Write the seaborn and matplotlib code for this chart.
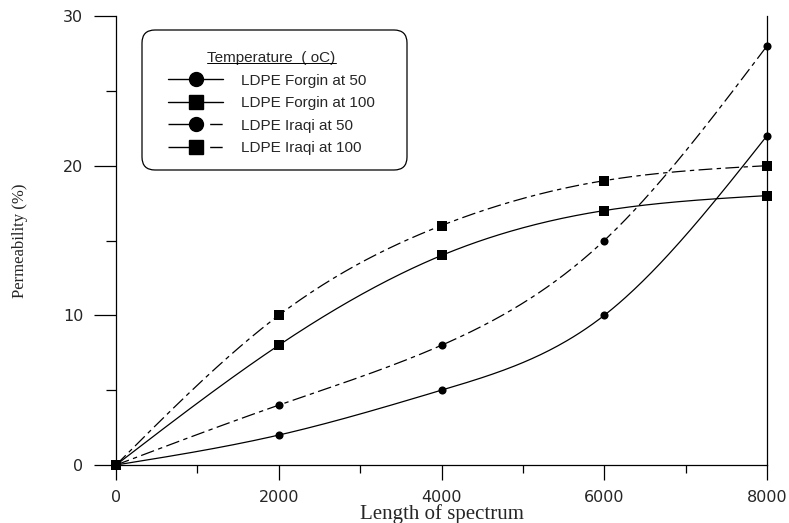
import numpy as np
import pandas as pd
import matplotlib
matplotlib.use("Agg")
import matplotlib.pyplot as plt
from matplotlib.lines import Line2D
from matplotlib.patches import FancyBboxPatch
from matplotlib.ticker import MultipleLocator
import seaborn as sns

# ---- data ----
length = [0, 2000, 4000, 6000, 8000]
forgin_50 = [0, 2, 5, 10, 22]
forgin_100 = [0, 8, 14, 17, 18]
iraqi_50 = [0, 4, 8, 15, 28]
iraqi_100 = [0, 10, 16, 19, 20]
series_names = ["LDPE Forgin at 50", "LDPE Forgin at 100", "LDPE Iraqi at 50", "LDPE Iraqi at 100"]
series_vals = [forgin_50, forgin_100, iraqi_50, iraqi_100]
markers = ["o", "s", "o", "s"]
styles = ["solid", "solid", "dashdot", "dashdot"]


def natural_spline(x, y, n=300):
    x = np.asarray(x, float)
    y = np.asarray(y, float)
    m = len(x)
    h = np.diff(x)
    A = np.zeros((m, m))
    b = np.zeros(m)
    A[0, 0] = A[-1, -1] = 1
    for i in range(1, m - 1):
        A[i, i - 1] = h[i - 1]
        A[i, i] = 2 * (h[i - 1] + h[i])
        A[i, i + 1] = h[i]
        b[i] = 6 * ((y[i + 1] - y[i]) / h[i] - (y[i] - y[i - 1]) / h[i - 1])
    M = np.linalg.solve(A, b)
    xs = np.linspace(x[0], x[-1], n)
    ys = np.empty_like(xs)
    for k, xv in enumerate(xs):
        i = min(np.searchsorted(x, xv, side="right") - 1, m - 2)
        t1 = x[i + 1] - xv
        t0 = xv - x[i]
        ys[k] = (M[i] * t1 ** 3 + M[i + 1] * t0 ** 3) / (6 * h[i]) \
            + (y[i] / h[i] - M[i] * h[i] / 6) * t1 \
            + (y[i + 1] / h[i] - M[i + 1] * h[i] / 6) * t0
    return xs, ys


sns.set_style("white")
plt.rcParams["font.family"] = ["Liberation Sans", "DejaVu Sans"]

fig = plt.figure(figsize=(7.89, 5.23), dpi=100)
ax = fig.add_axes([116 / 789, (523 - 465) / 523, (767 - 116) / 789, (465 - 16) / 523])

dash = (0, (11, 3.5, 3.5, 3.5))
for name, vals, mk, st in zip(series_names, series_vals, markers, styles):
    xs, ys = natural_spline(length, vals)
    dfc = pd.DataFrame({"x": xs, "y": ys})
    sns.lineplot(data=dfc, x="x", y="y", ax=ax, color="black", lw=0.9,
                 linestyle="-" if st == "solid" else dash, sort=False)
    dfp = pd.DataFrame({"x": length, "y": vals})
    sns.scatterplot(data=dfp, x="x", y="y", ax=ax, marker=mk, color="black",
                    s=34 if mk == "o" else 55, linewidth=0, zorder=5, clip_on=False)

ax.set_xlim(0, 8000)
ax.set_ylim(0, 30)
ax.xaxis.set_major_locator(MultipleLocator(2000))
ax.xaxis.set_minor_locator(MultipleLocator(1000))
ax.yaxis.set_major_locator(MultipleLocator(10))
ax.yaxis.set_minor_locator(MultipleLocator(5))
ax.tick_params(axis="x", which="major", direction="out", length=11, width=0.9, color="black",
               pad=7, bottom=True)
ax.tick_params(axis="x", which="minor", direction="out", length=6, width=0.9, color="black",
               bottom=True)
ax.tick_params(axis="y", which="major", direction="out", length=15.5, width=0.9, color="black",
               pad=8, left=True)
ax.tick_params(axis="y", which="minor", direction="out", length=7.5, width=0.9, color="black",
               left=True)
for lab in ax.get_xticklabels() + ax.get_yticklabels():
    lab.set_family("DejaVu Sans")
    lab.set_fontsize(11.5)
ax.spines["top"].set_visible(False)
for s in ["left", "right", "bottom"]:
    ax.spines[s].set_color("black")
    ax.spines[s].set_linewidth(0.9)

ax.set_xlabel("Length of spectrum", family="Liberation Serif", fontsize=15, labelpad=-1)
ax.set_ylabel("Permeability (%)", family="Liberation Serif", fontsize=12, labelpad=25)

# legend box (rounded), in inches from the figure's bottom-left
box = FancyBboxPatch((1.42, (523 - 170) / 100), 2.65, 1.40,
                     boxstyle="round,pad=0,rounding_size=0.13",
                     transform=fig.dpi_scale_trans, facecolor="white",
                     edgecolor="black", linewidth=0.9, zorder=6)
fig.add_artist(box)

handles = []
for name, mk, st in zip(series_names, markers, styles):
    handles.append(Line2D([], [], color="black", lw=1.0,
                          linestyle="-" if st == "solid" else (0, (22, 8, 9, 8)),
                          marker=mk, markersize=10 if mk == "o" else 9.5,
                          markerfacecolor="black", markeredgecolor="black"))
leg = fig.legend(handles, series_names, title="Temperature  ( oC)", loc="upper left",
                 bbox_to_anchor=(1.68, (523 - 51) / 100), bbox_transform=fig.dpi_scale_trans,
                 fontsize=11, title_fontsize=11,
                 frameon=False, handlelength=3.6, handletextpad=1.2,
                 borderpad=0, labelspacing=0.56, borderaxespad=0)
leg.set_zorder(7)

fig.canvas.draw()
tb = leg.get_title().get_window_extent(fig.canvas.get_renderer())
inv = fig.transFigure.inverted()
(x0, y0), (x1, y1) = inv.transform([(tb.x0, tb.y0 + 2), (tb.x1, tb.y0 + 2)])
fig.add_artist(Line2D([x0, x1], [y0, y1], color="black", lw=0.7,
                      transform=fig.transFigure, zorder=8))

fig.savefig("out.png", dpi=100)
